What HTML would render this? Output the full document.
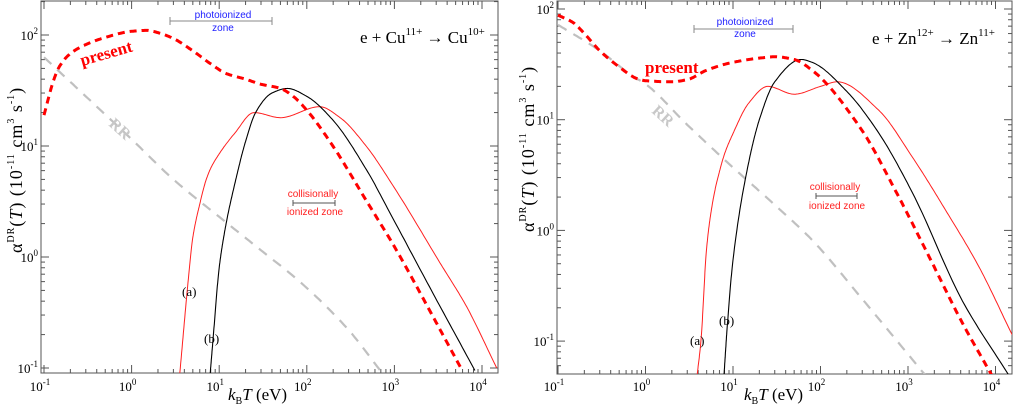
<!DOCTYPE html>
<html><head><meta charset="utf-8">
<style>
html,body{margin:0;padding:0;background:#fff;}
svg{display:block;font-family:"Liberation Serif",serif;}
.sans{font-family:"Liberation Sans",sans-serif;}
</style></head>
<body>
<svg id="chart" width="1013" height="404" viewBox="0 0 1013 404" xmlns="http://www.w3.org/2000/svg">
</svg>
<script>
// ---- data (temperature in eV, rate in 1e-11 cm^3 s^-1) ----
// Left panel: Cu11+
const cuPresentT = [0.1,0.13,0.15,0.2,0.3,0.5,1,1.5,2,3,5,8,12,20,30,50,70,100,200,480,1000,2760,5900];
const cuPresentA = [19,40,52,68,82,95,108,110,105,93,72,55,45,40,36,33,28,21,9.9,3.2,1.24,0.29,0.096];
const cuRRT = [0.1,0.3,1,3,10,30,83,300,690];
const cuRRA = [63,28,11.5,5,2.3,1.15,0.6,0.22,0.095];
const cuAT = [3.55,4.5,5,6,7,8,10,15,25,50,140,240,480,1000,3300,6700,14700];
const cuAA = [0.09,0.7,1.5,3,4.8,6.3,8.5,13,20,18,22.6,18,9.9,4.2,0.89,0.355,0.1];
const cuBT = [7.9,8.5,10,12,15,20,26,40,60,100,200,480,1000,2760,8300];
const cuBA = [0.09,0.18,0.8,2,4.5,11,20,30,33,28,17,6.1,2.1,0.47,0.095];
// Right panel: Zn12+
const znPresentT = [0.1,0.15,0.2,0.3,0.5,0.8,1,2,3,5,10,20,30,50,80,295,716,1740,4200,9100];
const znPresentA = [88,75,60,42,30,23.5,22.5,22,23,28,33,36,37,35,28,8.1,2.3,0.58,0.145,0.049];
const znRRT = [0.1,0.3,0.7,1,3,10,30,80,300,1550];
const znRRA = [72,42,25,21,9,3.7,1.7,0.82,0.24,0.05];
const znAT = [3.9,4.3,5,6,7,8,10,15,25,50,100,155,462,1120,2680,6460,15500];
const znAA = [0.05,0.1,0.7,2,3.4,4.9,7.5,14,20,17,20,22,12.2,4.6,1.53,0.47,0.114];
const znBT = [7.9,8.5,10,15,20,30,60,80,200,462,1120,4200,14000];
const znBA = [0.05,0.12,0.54,4,10,22,35,33,18,7.6,2.2,0.23,0.05];
const xTickExps = [-1,0,1,2,3,4];

const NS = "http://www.w3.org/2000/svg";
const svg = document.getElementById('chart');
function mk(tag, attrs, parent){
  const e = document.createElementNS(NS, tag);
  for (const k in attrs) e.setAttribute(k, attrs[k]);
  (parent||svg).appendChild(e);
  return e;
}

const panels = [
 {id:'cu', x0:41, x1:498, y0:1, y1:373, ox:44, dx:87.6, oy:35, dy:111, yExps:[-1,0,1,2],
  present:[cuPresentT,cuPresentA], rr:[cuRRT,cuRRA], a:[cuAT,cuAA], b:[cuBT,cuBA]},
 {id:'zn', x0:557, x1:1012, y0:1, y1:374, ox:558, dx:87.5, oy:9, dy:110.7, yExps:[-1,0,1,2],
  present:[znPresentT,znPresentA], rr:[znRRT,znRRA], a:[znAT,znAA], b:[znBT,znBA]}
];

// monotone cubic interpolation in log-log space
function pathFrom(p, T, A){
  const X = T.map(t=>Math.log10(t)), Y = A.map(a=>Math.log10(a));
  const n = X.length, d = [], m = new Array(n);
  for (let i=0;i<n-1;i++) d.push((Y[i+1]-Y[i])/(X[i+1]-X[i]));
  m[0]=d[0]; m[n-1]=d[n-2];
  for (let i=1;i<n-1;i++){
    if (d[i-1]*d[i]<=0) m[i]=0;
    else { const h0=X[i]-X[i-1], h1=X[i+1]-X[i];
      const w1=2*h1+h0, w2=h1+2*h0;
      m[i]=(w1+w2)/(w1/d[i-1]+w2/d[i]); }
  }
  const pts=[];
  for (let i=0;i<n-1;i++){
    const h=X[i+1]-X[i];
    for (let k=0;k<20;k++){
      const t=k/20, t2=t*t, t3=t2*t;
      const y=(2*t3-3*t2+1)*Y[i]+(t3-2*t2+t)*h*m[i]+(-2*t3+3*t2)*Y[i+1]+(t3-t2)*h*m[i+1];
      pts.push([X[i]+t*h,y]);
    }
  }
  pts.push([X[n-1],Y[n-1]]);
  return pts.map((q,i)=>(i?'L':'M')+(p.ox+(q[0]+1)*p.dx).toFixed(1)+','+(p.oy+(2-q[1])*p.dy).toFixed(1)).join(' ');
}

panels.forEach(p=>{
  const g = mk('g',{});
  
  
  const defs = mk('defs',{},g);
  const cp = mk('clipPath',{id:'clip-'+p.id},defs);
  mk('rect',{x:p.x0,y:p.y0,width:p.x1-p.x0,height:p.y1-p.y0},cp);
  const fr = mk('rect',{x:p.x0,y:p.y0,width:p.x1-p.x0,height:p.y1-p.y0,fill:'none',stroke:'#555','stroke-width':1},g);
  
  
  const px = l=>p.ox+(l+1)*p.dx, py = l=>p.oy+(2-l)*p.dy;
  for (let e=-2;e<=4;e++){
    for (let m=1;m<10;m++){
      const x = px(e+Math.log10(m));
      if (x<p.x0||x>p.x1) continue;
      const L = m===1?8:4;
      mk('line',{x1:x,y1:p.y1,x2:x,y2:p.y1-L,stroke:'#555'},g);
      mk('line',{x1:x,y1:p.y0,x2:x,y2:p.y0+L,stroke:'#555'},g);
    }
  }
  for (let e=-2;e<=2;e++){
    for (let m=1;m<10;m++){
      const y = py(e+Math.log10(m));
      if (y<p.y0||y>p.y1) continue;
      const L = m===1?8:4;
      mk('line',{x1:p.x0,y1:y,x2:p.x0+L,y2:y,stroke:'#555'},g);
      mk('line',{x1:p.x1,y1:y,x2:p.x1-L,y2:y,stroke:'#555'},g);
    }
  }
  xTickExps.forEach(e=>{
    const t = mk('text',{x:px(e)-4,y:391,'font-size':13,'text-anchor':'middle'},g);
    
    
    t.innerHTML = '10<tspan dy="-6" font-size="9">'+e+'</tspan>';
  });
  p.yExps.forEach(e=>{
    const t = mk('text',{x:p.x0-3,y:py(e)+5,'font-size':13,'text-anchor':'end'},g);
    
    
    t.innerHTML = '10<tspan dy="-6" font-size="9">'+e+'</tspan>';
  });
  const cg = mk('g',{'clip-path':'url(#clip-'+p.id+')'},g);
  const rr = mk('path',{d:pathFrom(p,p.rr[0],p.rr[1]),fill:'none',stroke:'#c0c0c0','stroke-width':2.2,'stroke-dasharray':'10,8'},cg);
  
  
  const ca = mk('path',{d:pathFrom(p,p.a[0],p.a[1]),fill:'none',stroke:'#ff2020','stroke-width':1},cg);
  
  
  const cb = mk('path',{d:pathFrom(p,p.b[0],p.b[1]),fill:'none',stroke:'#000','stroke-width':1.1},cg);
  
  
  const pr = mk('path',{d:pathFrom(p,p.present[0],p.present[1]),fill:'none',stroke:'#ff0000','stroke-width':3,'stroke-dasharray':'7,5'},cg);
  
  
});
</script>
<script>
const ann = `
<g>
 <text x="360" y="43" font-size="17">e + Cu<tspan dy="-8" font-size="11">11+</tspan><tspan dy="8"> → Cu</tspan><tspan dy="-8" font-size="11">10+</tspan></text>
 <text x="82" y="66" font-size="17" font-weight="bold" fill="#ff0000" transform="rotate(-16 82 66)">present</text>
 <text x="108" y="125" font-size="16" font-weight="bold" fill="#c8c8c8" transform="rotate(42 108 125)">RR</text>
 <line x1="170" y1="21" x2="272" y2="21" stroke="#888"/><line x1="170" y1="17" x2="170" y2="25" stroke="#888"/><line x1="272" y1="17" x2="272" y2="25" stroke="#888"/>
 <text class="sans" x="223" y="18" font-size="10" fill="#2020ff" text-anchor="middle">photoionized</text>
 <text class="sans" x="223" y="31" font-size="10" fill="#2020ff" text-anchor="middle">zone</text>
 <line x1="293" y1="203" x2="335" y2="203" stroke="#555"/><line x1="293" y1="200" x2="293" y2="206" stroke="#555"/><line x1="335" y1="200" x2="335" y2="206" stroke="#555"/>
 <text class="sans" x="313" y="197" font-size="10" fill="#ff2020" text-anchor="middle">collisionally</text>
 <text class="sans" x="315" y="215" font-size="10" fill="#ff2020" text-anchor="middle">ionized zone</text>
 <text x="182" y="296" font-size="13">(a)</text>
 <text x="204" y="343" font-size="13">(b)</text>
 <text x="228" y="400" font-size="17"><tspan font-style="italic">k</tspan><tspan dy="4" font-size="10">B</tspan><tspan dy="-4" font-style="italic">T</tspan>  (eV)</text>
 <text transform="translate(22 253) rotate(-90)" font-size="18" letter-spacing="1">α<tspan dy="-8" font-size="10">DR</tspan><tspan dy="8">(</tspan><tspan font-style="italic">T</tspan>)     (10<tspan dy="-8" font-size="10">-11</tspan><tspan dy="8"> cm</tspan><tspan dy="-8" font-size="10">3</tspan><tspan dy="8"> s</tspan><tspan dy="-8" font-size="10">-1</tspan><tspan dy="8">)</tspan></text>
</g>
<g>
 <text x="872" y="44" font-size="17">e + Zn<tspan dy="-8" font-size="11">12+</tspan><tspan dy="8"> → Zn</tspan><tspan dy="-8" font-size="11">11+</tspan></text>
 <text x="645" y="73" font-size="17" font-weight="bold" fill="#ff0000">present</text>
 <text x="651" y="112" font-size="16" font-weight="bold" fill="#c8c8c8" transform="rotate(42 651 112)">RR</text>
 <line x1="694" y1="29" x2="793" y2="29" stroke="#888"/><line x1="694" y1="25" x2="694" y2="33" stroke="#888"/><line x1="793" y1="25" x2="793" y2="33" stroke="#888"/>
 <text class="sans" x="745" y="25" font-size="10" fill="#2020ff" text-anchor="middle">photoionized</text>
 <text class="sans" x="745" y="37" font-size="10" fill="#2020ff" text-anchor="middle">zone</text>
 <line x1="816" y1="196" x2="857" y2="196" stroke="#555"/><line x1="816" y1="193" x2="816" y2="199" stroke="#555"/><line x1="857" y1="193" x2="857" y2="199" stroke="#555"/>
 <text class="sans" x="835" y="190" font-size="10" fill="#ff2020" text-anchor="middle">collisionally</text>
 <text class="sans" x="837" y="209" font-size="10" fill="#ff2020" text-anchor="middle">ionized zone</text>
 <text x="690" y="345" font-size="13">(a)</text>
 <text x="719" y="325" font-size="13">(b)</text>
 <text x="744" y="400" font-size="17"><tspan font-style="italic">k</tspan><tspan dy="4" font-size="10">B</tspan><tspan dy="-4" font-style="italic">T</tspan>  (eV)</text>
 <text transform="translate(534 232) rotate(-90)" font-size="18" letter-spacing="1">α<tspan dy="-8" font-size="10">DR</tspan><tspan dy="8">(</tspan><tspan font-style="italic">T</tspan>)     (10<tspan dy="-8" font-size="10">-11</tspan><tspan dy="8"> cm</tspan><tspan dy="-8" font-size="10">3</tspan><tspan dy="8"> s</tspan><tspan dy="-8" font-size="10">-1</tspan><tspan dy="8">)</tspan></text>
</g>`;
document.getElementById('chart').insertAdjacentHTML('beforeend', ann);
</script>
</body></html>
